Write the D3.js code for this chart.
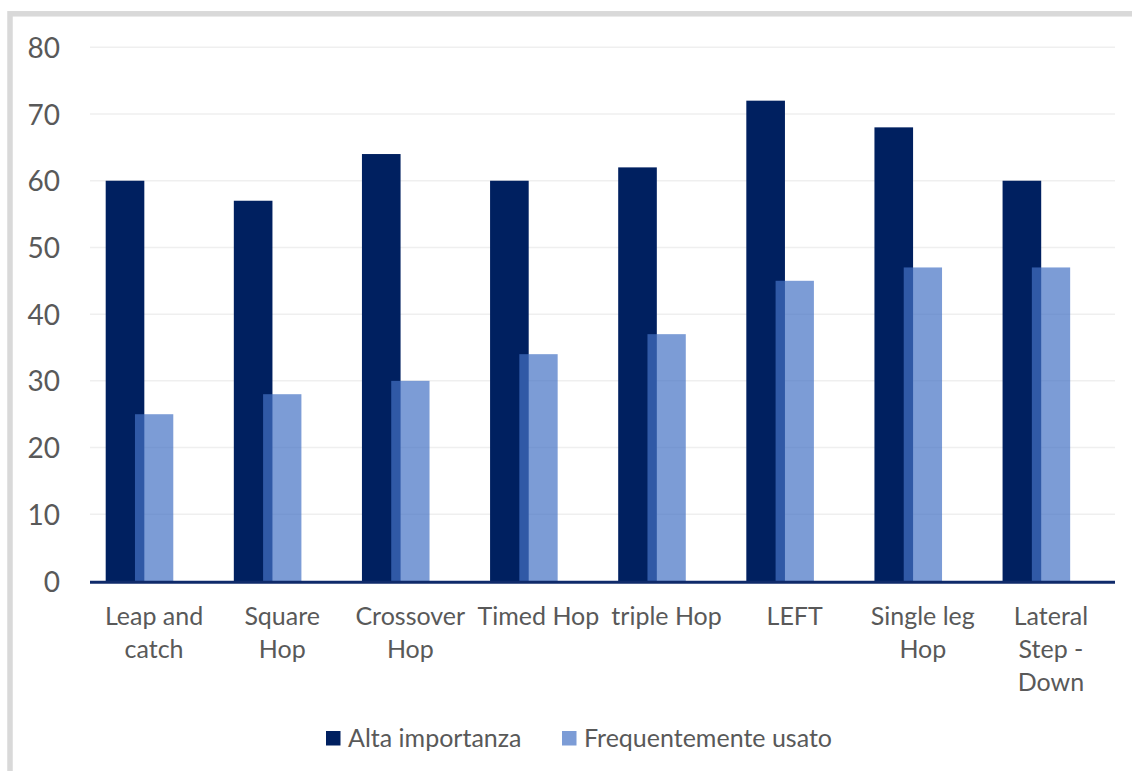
<!DOCTYPE html>
<html>
<head>
<meta charset="utf-8">
<script src="https://cdn.jsdelivr.net/npm/d3@7"></script>
<style>
  html, body { margin: 0; padding: 0; background: #fff; }
  svg { display: block; }
  text { font-family: Lato, "Open Sans", sans-serif; fill: #595959; }
</style>
</head>
<body>
<svg id="chart" width="1132" height="771"></svg>
<script>
const categories = [
  ["Leap and", "catch"],
  ["Square", "Hop"],
  ["Crossover", "Hop"],
  ["Timed Hop"],
  ["triple Hop"],
  ["LEFT"],
  ["Single leg", "Hop"],
  ["Lateral", "Step -", "Down"]
];
const altaImportanza = [60, 57, 64, 60, 62, 72, 68, 60];
const frequentementeUsato = [25, 28, 30, 34, 37, 45, 47, 47];
const yTicks = [0, 10, 20, 30, 40, 50, 60, 70, 80];
const seriesNames = ["Alta importanza", "Frequentemente usato"];

const W = 1132, H = 771;
const svg = d3.select("#chart");
const fontSize = 25;

// outer frame (cropped chart border)
svg.append("rect")
  .attr("x", 10).attr("y", 13.8)
  .attr("width", 1300).attr("height", 900)
  .attr("fill", "#fff")
  .attr("stroke", "#d9d9d9").attr("stroke-width", 5.5);

const labels = categories.map(c => c.join(" "));
const x = d3.scaleBand().domain(labels).range([90, 1115]).paddingInner(0).paddingOuter(0);
const y = d3.scaleLinear().domain([0, 80]).range([581, 47.3]);
const bw = x.bandwidth();

// gridlines
svg.append("g")
  .selectAll("line")
  .data(yTicks.filter(t => t > 0))
  .join("line")
  .attr("x1", 90).attr("x2", 1115)
  .attr("y1", d => y(d)).attr("y2", d => y(d))
  .attr("stroke", "#efefef").attr("stroke-width", 1.5);

// y axis labels
const yAxis = d3.axisLeft(y).tickValues(yTicks).tickSize(0).tickPadding(0).tickFormat(d3.format("d"));
const gy = svg.append("g").attr("transform", "translate(60,0)").call(yAxis);
gy.select(".domain").remove();
gy.selectAll("text")
  .attr("font-size", 28)
  .attr("font-family", "Lato, 'Open Sans', sans-serif")
  .attr("fill", "#595959")
  .attr("dy", "0.36em");

// bars
const gBars = svg.append("g");
gBars.selectAll("rect.alta")
  .data(altaImportanza)
  .join("rect")
  .attr("class", "alta")
  .attr("x", (d, i) => x(labels[i]) + bw * 0.1225)
  .attr("width", bw * 0.3015)
  .attr("y", d => y(d))
  .attr("height", d => y(0) - y(d))
  .attr("fill", "#002060");

gBars.selectAll("rect.freq")
  .data(frequentementeUsato)
  .join("rect")
  .attr("class", "freq")
  .attr("x", (d, i) => x(labels[i]) + bw * 0.351)
  .attr("width", bw * 0.299)
  .attr("y", d => y(d))
  .attr("height", d => y(0) - y(d))
  .attr("fill", "#4472c4")
  .attr("fill-opacity", 0.7);

// x axis
const xAxis = d3.axisBottom(x).tickSize(0).tickFormat(() => "");
const gx = svg.append("g").attr("transform", `translate(0,${y(0)})`).call(xAxis);
gx.select(".domain").remove();
svg.append("line")
  .attr("x1", 90).attr("x2", 1115)
  .attr("y1", y(0) + 1.2).attr("y2", y(0) + 1.2)
  .attr("stroke", "#0f2a6a").attr("stroke-width", 3);

gx.selectAll(".tick").each(function(d, i) {
  const t = d3.select(this).append("text")
    .attr("font-size", fontSize)
    .attr("text-anchor", "middle")
    .attr("fill", "#595959");
  categories[i].forEach((line, j) => {
    t.append("tspan").attr("x", 0).attr("y", 44 + j * 33).text(line);
  });
});

// legend
const legend = svg.append("g");
const legendItems = [
  { name: seriesNames[0], color: "#002060", opacity: 1, x: 326 },
  { name: seriesNames[1], color: "#4472c4", opacity: 0.7, x: 562 }
];
legendItems.forEach(it => {
  legend.append("rect")
    .attr("x", it.x).attr("y", 731)
    .attr("width", 14.5).attr("height", 14.5)
    .attr("fill", it.color).attr("fill-opacity", it.opacity);
  legend.append("text")
    .attr("x", it.x + 22).attr("y", 747)
    .attr("font-size", fontSize)
    .text(it.name);
});
</script>
</body>
</html>
